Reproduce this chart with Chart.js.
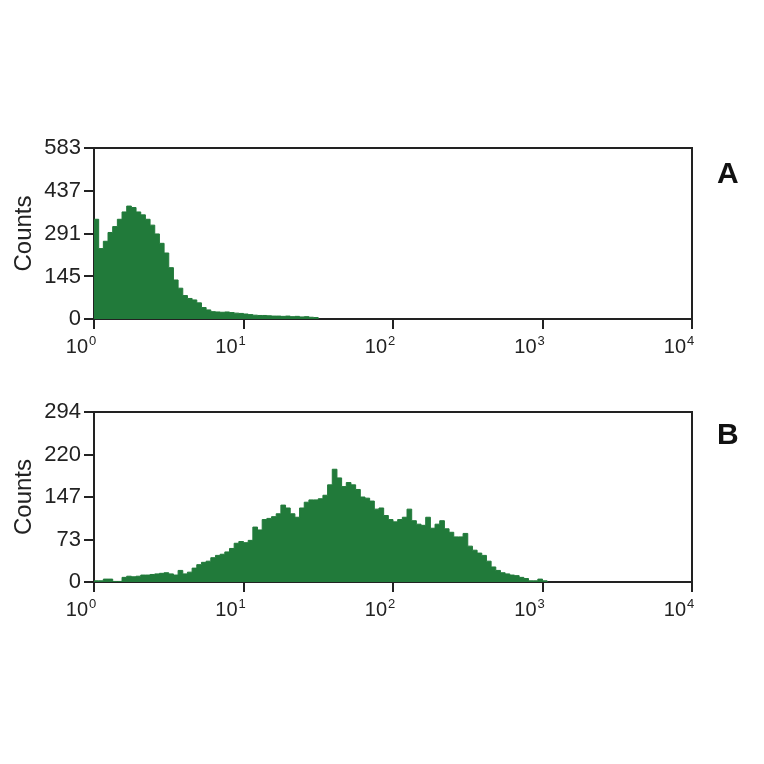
<!DOCTYPE html>
<html>
<head>
<meta charset="utf-8">
<script src="https://cdn.jsdelivr.net/npm/chart.js@4.4.1/dist/chart.umd.min.js"></script>
<style>
  html, body { margin: 0; padding: 0; background: #fff; }
  body { width: 764px; height: 764px; position: relative; overflow: hidden;
         font-family: "Liberation Sans", Arial, sans-serif; }
  .panel { position: absolute; left: 0; width: 764px; height: 240px; }
  #wrapA { top: 120px; }
  #wrapB { top: 384px; }
  .tag { position: absolute; left: 717px; font-weight: bold; font-size: 30px;
         line-height: 30px; color: #111; }
</style>
</head>
<body>
<div class="panel" id="wrapA"><canvas id="chartA" width="764" height="240"></canvas></div>
<div class="panel" id="wrapB"><canvas id="chartB" width="764" height="240"></canvas></div>
<div class="tag" style="top:158px">A</div>
<div class="tag" style="top:419px">B</div>

<script>
/* ── Data ──────────────────────────────────────────────── */
// histogram channels, 32 per decade, starting at 10^0
const binsPerDecade = 32;
const countsA = [
  340, 240, 265, 295, 315, 340, 365, 385, 380, 365,
  355, 340, 320, 290, 258, 225, 175, 133, 105, 80,
  70, 65, 55, 39, 31, 25, 24, 23, 24, 22,
  20, 19, 17, 15, 13, 12, 12, 11, 10, 10,
  9, 10, 8, 9, 7, 8, 6, 5
];
const countsB = [
  2, 2, 5, 5, 1, 1, 8, 10, 9, 10,
  12, 12, 13, 14, 15, 16, 14, 12, 20, 14,
  17, 24, 30, 34, 36, 42, 46, 48, 52, 58,
  67, 70, 68, 72, 95, 90, 108, 110, 113, 118,
  133, 128, 118, 112, 128, 138, 142, 142, 144, 150,
  168, 195, 180, 165, 172, 168, 160, 147, 145, 140,
  126, 128, 115, 108, 104, 108, 112, 126, 106, 100,
  98, 112, 93, 100, 106, 92, 86, 78, 78, 84,
  62, 55, 50, 46, 36, 26, 20, 16, 14, 12,
  11, 8, 6, 2, 2, 5, 2
];
const decades = [0, 1, 2, 3, 4];
const tickBase = '10';
const tickExp = ['0', '1', '2', '3', '4'];
const yTicksA = [0, 145, 291, 437, 583];
const yTicksB = [0, 73, 147, 220, 294];

/* ── Style ─────────────────────────────────────────────── */
const GREEN = '#217a3a';
const AXIS = '#222';
const FONT = "'Liberation Sans', Arial, sans-serif";

// top + right edge of the plot box
const frame = {
  id: 'frame',
  afterDraw(chart) {
    const { ctx, chartArea: a } = chart;
    ctx.save();
    ctx.strokeStyle = AXIS;
    ctx.lineWidth = 2;
    ctx.beginPath();
    ctx.moveTo(a.left, a.top);
    ctx.lineTo(a.right, a.top);
    ctx.lineTo(a.right, a.bottom);
    ctx.stroke();
    ctx.restore();
  }
};

// "10" with a raised exponent under each decade tick
const decadeLabels = {
  id: 'decadeLabels',
  afterDraw(chart) {
    const { ctx, chartArea: a, scales: { x } } = chart;
    ctx.save();
    ctx.fillStyle = AXIS;
    ctx.textBaseline = 'alphabetic';
    decades.forEach((d, i) => {
      const px = x.getPixelForValue(d);
      ctx.font = `20px ${FONT}`;
      ctx.textAlign = 'right';
      ctx.fillText(tickBase, px - 6, a.bottom + 34);
      ctx.font = `13px ${FONT}`;
      ctx.textAlign = 'left';
      ctx.fillText(tickExp[i], px - 5, a.bottom + 26);
    });
    ctx.restore();
  }
};

function toPoints(counts) {
  const pts = counts.map((c, i) => ({ x: i / binsPerDecade, y: c }));
  pts.push({ x: counts.length / binsPerDecade, y: 0 });
  return pts;
}

function makeHist(id, counts, yTicks, plotH) {
  const canvasH = 240, padTop = 28;
  return new Chart(document.getElementById(id), {
    type: 'line',
    data: {
      datasets: [{
        data: toPoints(counts),
        stepped: true,
        fill: 'origin',
        backgroundColor: GREEN,
        borderColor: GREEN,
        borderWidth: 1,
        pointRadius: 0,
      }]
    },
    options: {
      responsive: false,
      animation: false,
      events: [],
      layout: { padding: { left: 0, top: padTop, right: 72, bottom: 0 } },
      plugins: { legend: { display: false }, tooltip: { enabled: false } },
      scales: {
        x: {
          type: 'linear',
          min: 0, max: 4,
          z: 1,
          afterBuildTicks: s => { s.ticks = decades.map(v => ({ value: v })); },
          afterFit: s => { s.height = canvasH - padTop - plotH; },
          grid: { display: true, drawOnChartArea: false, drawTicks: true, tickLength: 10, color: AXIS, lineWidth: 2 },
          border: { display: true, color: AXIS, width: 2 },
          ticks: { display: false }
        },
        y: {
          min: 0, max: yTicks[yTicks.length - 1],
          z: 1,
          afterBuildTicks: s => { s.ticks = yTicks.map(v => ({ value: v })); },
          afterFit: s => { s.width = 94; },
          grid: { display: true, drawOnChartArea: false, drawTicks: true, tickLength: 10, color: AXIS, lineWidth: 2 },
          border: { display: true, color: AXIS, width: 2 },
          title: {
            display: true,
            text: 'Counts',
            font: { family: FONT, size: 24 },
            color: AXIS,
            padding: { top: 10, bottom: 0 },
          },
          ticks: {
            font: { family: FONT, size: 22 },
            color: AXIS,
            padding: 3,
          }
        }
      }
    },
    plugins: [frame, decadeLabels]
  });
}

makeHist('chartA', countsA, yTicksA, 171);
makeHist('chartB', countsB, yTicksB, 170);
</script>
</body>
</html>
